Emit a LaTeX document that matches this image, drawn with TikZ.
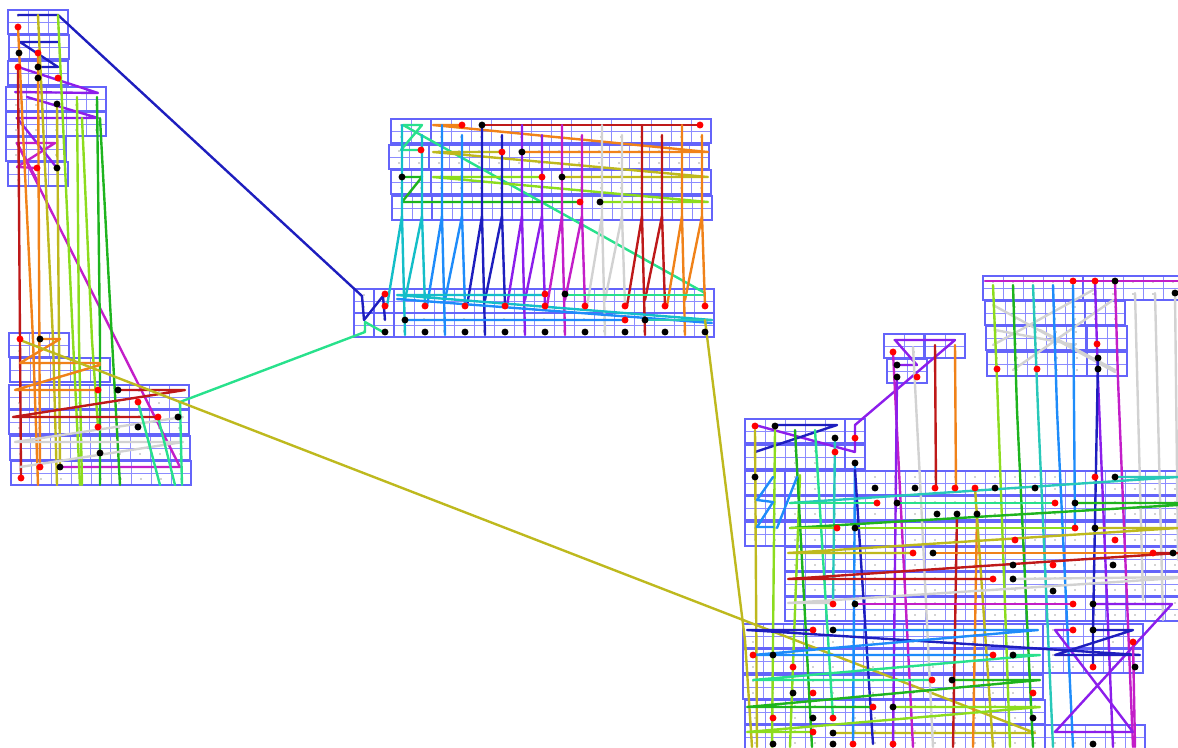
\documentclass[tikz,border=0pt]{standalone}
\definecolor{cellb}{RGB}{140,140,255}
\definecolor{grpc}{RGB}{100,100,250}
\definecolor{cCyan}{RGB}{20,190,200}
\definecolor{cDodger}{RGB}{30,140,250}
\definecolor{cDblue}{RGB}{30,30,190}
\definecolor{cViolet}{RGB}{140,30,235}
\definecolor{cMag}{RGB}{195,30,200}
\definecolor{cGray}{RGB}{210,210,210}
\definecolor{cDred}{RGB}{190,25,25}
\definecolor{cOrange}{RGB}{240,130,25}
\definecolor{cOlive}{RGB}{190,185,30}
\definecolor{cLime}{RGB}{140,220,30}
\definecolor{cGreen}{RGB}{30,180,30}
\definecolor{cSpring}{RGB}{40,225,140}
\definecolor{cTeal}{RGB}{40,200,185}
\tikzset{
  cell/.style={draw=cellb, line width=0.5pt},
  grpb/.style={draw=grpc, line width=1pt},
  ln/.style={line width=1.8pt, line cap=round, line join=round},
  mk/.style={fill=gray!70},
  rdot/.style={fill=red},
  bdot/.style={fill=black}
}
\newcommand\cellgrp[3]{%
  \foreach \k in {1,...,#3}{%
    \pgfmathsetmacro\xa{#1+20*(\k-1)}%
    \draw[cell] (\xa,#2) rectangle ++(20,24);
    \draw[cell] (\xa,#2+12) -- ++(20,0);
    \fill[mk] (\xa+10,#2+6) circle (0.6pt);
    \fill[mk] (\xa+10,#2+18) circle (0.6pt);
  }%
  \draw[grpb] (#1,#2) rectangle ++({20*#3},24);
}
\begin{document}
\begin{tikzpicture}[x=0.75pt,y=-0.75pt]
\useasboundingbox (0,0) rectangle (1178,747);
\clip (0,0) rectangle (1178,747);
% ---------- grids: left top
\cellgrp{8}{10}{3}\cellgrp{9}{35}{3}\cellgrp{8}{61}{3}
\cellgrp{6}{87}{5}\cellgrp{6}{112}{5}\cellgrp{6}{137}{3}\cellgrp{8}{162}{3}
% left bottom
\cellgrp{9}{333}{3}\cellgrp{10}{358}{5}
\cellgrp{9}{385}{9}\cellgrp{9}{410}{9}\cellgrp{10}{436}{9}\cellgrp{11}{461}{9}
% middle top
\cellgrp{391}{119}{2}\cellgrp{431}{119}{14}
\cellgrp{389}{145}{2}\cellgrp{429}{145}{14}
\cellgrp{391}{170}{2}\cellgrp{431}{170}{14}
\cellgrp{392}{196}{2}\cellgrp{432}{196}{14}
% middle bottom
\cellgrp{354}{289}{1}\cellgrp{374}{289}{1}\cellgrp{394}{289}{16}
\cellgrp{354}{313}{1}\cellgrp{374}{313}{1}\cellgrp{394}{313}{16}
% right small
\cellgrp{884}{334}{2}\cellgrp{925}{334}{2}\cellgrp{887}{359}{2}
% right top
\cellgrp{983}{276}{5}\cellgrp{1083}{276}{5}
\cellgrp{985}{301}{5}\cellgrp{1085}{301}{2}
\cellgrp{986}{326}{5}\cellgrp{1087}{326}{2}
\cellgrp{987}{352}{5}\cellgrp{1087}{352}{2}
% right big
\cellgrp{745}{419}{5}\cellgrp{845}{419}{1}
\cellgrp{745}{445}{5}\cellgrp{845}{445}{1}
\cellgrp{745}{471}{2}\cellgrp{785}{471}{20}
\cellgrp{745}{496}{2}\cellgrp{785}{496}{20}
\cellgrp{745}{522}{2}\cellgrp{785}{522}{20}
\cellgrp{785}{547}{20}\cellgrp{785}{572}{20}\cellgrp{785}{597}{20}
\cellgrp{743}{624}{15}\cellgrp{1043}{624}{5}
\cellgrp{743}{649}{15}\cellgrp{1043}{649}{5}
\cellgrp{743}{675}{15}
\cellgrp{745}{700}{15}
\cellgrp{745}{725}{15}\cellgrp{1045}{725}{5}

% ---------- left cluster lines
\draw[ln,cDblue] (18,15)--(58,15)--(362,296)--(364,320)--(383,296)--(385,320);
\draw[ln,cDblue] (20,42)--(58,42) (20,42)--(58,67) (38,67)--(58,67);
\draw[ln,cViolet] (18,67)--(98,93) (15,92)--(98,93) (27,97)--(98,118) (17,118)--(98,118) (17,118)--(57,168);
\draw[ln,cMag] (17,143)--(55,143) (17,143)--(37,180) (55,143)--(17,167)--(37,168);
\draw[ln,cMag] (17,143)--(180,467)--(60,467);
\draw[ln,cDred] (18,67)--(21,478);
\draw[ln,cOrange] (18,27)--(33,340)--(38,485);
\draw[ln,cOrange] (38,53)--(40,467);
\draw[ln,cOlive] (38,15)--(53,340)--(57,485);
\draw[ln,cOlive] (57,104)--(59,340)--(60,467);
\draw[ln,cLime] (58,15)--(73,340)--(80,485);
\draw[ln,cLime] (77,97)--(79,340)--(82,485);
\draw[ln,cLime] (82,118)--(92,340)--(98,427);
\draw[ln,cGreen] (97,97)--(100,340)--(100,485);
\draw[ln,cGreen] (100,118)--(112,340)--(120,485);
\draw[ln,cOrange] (40,339)--(60,339)--(20,363)--(100,363) (15,390)--(100,365) (15,390)--(98,390);
\draw[ln,cDred] (118,390)--(185,390)--(13,417)--(158,417);
\draw[ln,cGray] (183,417)--(15,442)--(183,442)--(20,467);
\draw[ln,cSpring] (138,402)--(160,485) (158,417)--(175,485) (180,402)--(182,485);
\draw[ln,cSpring] (180,402)--(365,332)--(365,322)--(383,332);
\draw[ln,cOlive] (20,340)--(1035,733)--(833,733);

% ---------- middle block lines
\draw[ln,cSpring] (403,125)--(422,125)--(401,150)--(421,150) (403,125)--(705,293);
\draw[ln,cGreen] (402,177)--(422,177)--(402,202)--(580,202);
\draw[ln,cLime] (600,202)--(708,202) (433,177)--(708,202) (433,177)--(542,177);
\draw[ln,cOlive] (562,177)--(708,177) (433,152)--(708,177) (433,152)--(502,152);
\draw[ln,cOrange] (522,152)--(708,152) (433,125)--(708,152) (433,125)--(462,125);
\draw[ln,cDred] (482,125)--(700,125);
\foreach \c [count=\j from 0] in {cCyan,cDodger,cDblue,cViolet,cMag,cGray,cDred,cOrange}{
  \pgfmathsetmacro\xo{40*\j}
  \draw[ln,\c] (387+\xo,306) -- (402+\xo,216) -- (402+\xo,125);
  \draw[ln,\c] (402+\xo,216) -- (405+\xo,335);
  \draw[ln,\c] (405+\xo,300) -- (422+\xo,216) -- (422+\xo,135);
  \draw[ln,\c] (422+\xo,216) -- (425+\xo,306);
}
\draw[ln,cCyan] (397,295)--(545,295) (397,295)--(712,320);
\draw[ln,cSpring] (565,295)--(703,295);
\draw[ln,cDodger] (405,320)--(625,320) (397,299)--(712,323);
\draw[ln,cTeal] (645,320)--(712,320);
\draw[ln,cOlive] (705,320)--(745,640)--(752,747);

% ---------- right small block lines
\draw[ln,cViolet] (895,340)--(955,340) (895,340)--(917,365) (897,365)--(917,365) (955,340)--(855,425)--(855,452) (755,425)--(855,452);
\draw[ln,cDblue] (775,425)--(837,425)--(755,452);
\draw[ln,cMag] (893,352)--(913,747);
\draw[ln,cViolet] (897,377)--(893,747);
\draw[ln,cGray] (913,347)--(920,480)--(933,747);
\draw[ln,cDred] (935,345)--(936,489) (957,514)--(953,747);
\draw[ln,cOrange] (955,345)--(956,489) (977,514)--(973,747);

% ---------- right top block lines
\draw[ln,cGray] (993,305)--(1115,372) (993,345)--(1093,290) (1013,370)--(1113,300) (1040,330)--(1115,370) (995,330)--(1075,345);
\draw[ln,cMag] (985,281)--(1178,281);
\draw[ln,cLime] (993,285)--(997,380)--(1010,747);
\draw[ln,cGreen] (1013,285)--(1017,410)--(1033,747);
\draw[ln,cTeal] (1033,285)--(1038,410)--(1053,747);
\draw[ln,cDodger] (1053,285)--(1057,410)--(1073,747);
\draw[ln,cDodger] (1073,285)--(1075,528);
\draw[ln,cViolet] (1095,281)--(1098,380)--(1113,747);
\draw[ln,cDblue] (1098,358)--(1093,630)--(1093,667);
\draw[ln,cMag] (1115,281)--(1118,380)--(1133,747);
\draw[ln,cGray] (1135,293)--(1143,600) (1155,293)--(1163,620) (1175,293)--(1178,560);

% ---------- big block lines
\draw[ln,cOlive] (755,430)--(757,747);
\draw[ln,cLime] (775,430)--(772,747);
\draw[ln,cLime] (800,475)--(790,747);
\draw[ln,cGreen] (795,430)--(812,747);
\draw[ln,cSpring] (815,430)--(833,718);
\draw[ln,cTeal] (835,438)--(833,604);
\draw[ln,cDodger] (855,463)--(853,744);
\draw[ln,cDblue] (855,470)--(873,744);
\draw[ln,cOlive] (975,488)--(993,747);
\draw[ln,cDodger] (773,477)--(757,500)--(773,502)--(757,527)--(773,527) (797,477)--(777,528);
\draw[ln,cTeal] (790,503)--(1178,477) (1115,477)--(1178,477);
\draw[ln,cSpring] (790,503)--(877,503) (897,503)--(1055,503);
\draw[ln,cGreen] (1075,503)--(1178,503) (790,528)--(1178,505);
\draw[ln,cLime] (790,528)--(837,528) (855,528)--(1075,528);
\draw[ln,cOlive] (1095,528)--(1178,528) (788,553)--(1178,528) (788,553)--(913,553);
\draw[ln,cOrange] (933,553)--(1153,553);
\draw[ln,cDred] (1153,553)--(1173,553) (788,579)--(1178,553) (788,579)--(993,579);
\draw[ln,cGray] (1013,579)--(1178,577) (788,603)--(1178,578) (788,603)--(833,603);
\draw[ln,cMag] (855,604)--(1073,604);
\draw[ln,cViolet] (1093,604)--(1172,604)--(1055,732)--(1133,732)--(1055,630)--(1073,630);
\draw[ln,cDblue] (747,630)--(813,630) (747,630)--(1140,655) (1055,655)--(1140,655) (1133,630)--(1055,655) (1093,630)--(1133,630);
\draw[ln,cDodger] (833,630)--(1038,630) (753,655)--(1038,630) (753,655)--(993,655);
\draw[ln,cSpring] (1013,655)--(1040,655) (753,680)--(1040,655) (753,680)--(932,680);
\draw[ln,cGreen] (952,680)--(1040,680) (747,707)--(1040,680) (747,707)--(873,707);
\draw[ln,cLime] (893,707)--(1040,707) (747,732)--(1040,707) (747,732)--(813,732);
\draw[ln,cMag] (1133,642)--(1135,747);

% ---------- dots
\foreach \p in {(18,27),(38,53),(18,67),(58,78),(37,168),
  (20,339),(98,390),(138,402),(158,417),(98,427),(40,467),(21,478),
  (462,125),(700,125),(421,150),(502,152),(542,177),(580,202),
  (385,294),(545,294),(625,320),
  (385,306),(425,306),(465,306),(505,306),(545,306),(585,306),(625,306),(665,306),(705,306),
  (893,352),(917,377),(755,426),(855,438),(835,452),
  (1073,281),(1095,281),(997,369),(1037,369),(1097,344),
  (935,488),(955,488),(975,488),(1095,477),(877,503),(1055,503),(837,528),(1075,528),
  (1015,540),(1115,540),(913,553),(1153,553),(1053,565),(993,579),(833,604),(1073,604),
  (813,630),(1073,630),(1133,642),(753,655),(993,655),(793,667),(1093,667),(932,680),
  (813,693),(1033,693),(873,707),(773,718),(833,718),(813,732),(853,744),(893,744)}
  \fill[rdot] \p circle (2.6pt);
\foreach \p in {(38,67),(19,53),(38,78),(57,104),(57,168),
  (40,339),(118,390),(178,417),(138,427),(100,453),(60,467),
  (482,125),(522,152),(402,177),(562,177),(600,202),
  (565,294),(405,320),(645,320),
  (385,332),(425,332),(465,332),(505,332),(545,332),(585,332),(625,332),(665,332),(705,332),
  (897,365),(897,377),(775,426),(835,438),(855,463),
  (1115,281),(1175,293),(1098,358),(1098,369),
  (755,477),(875,488),(915,488),(995,488),(1035,488),(1115,477),(897,503),(1075,503),
  (937,514),(957,514),(977,514),(855,528),(1095,528),(933,553),(1173,553),
  (1013,565),(1113,565),(1013,579),(1053,591),(855,604),(1093,604),
  (833,630),(1093,630),(773,655),(1013,655),(1135,667),(952,680),(793,693),
  (893,707),(813,718),(1033,718),(833,733),(773,744),(833,744),(1093,744)}
  \fill[bdot] \p circle (2.6pt);
\end{tikzpicture}
\end{document}
